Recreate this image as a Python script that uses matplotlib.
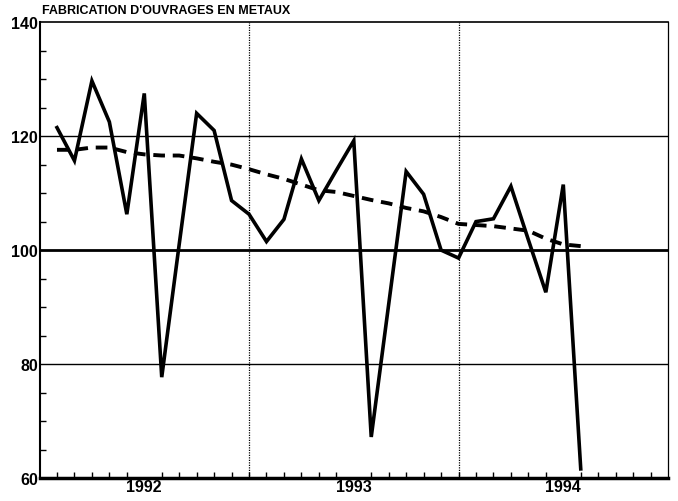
import numpy as np
import matplotlib.pyplot as plt

plt.rcParams['font.family'] = ['Liberation Sans', 'DejaVu Sans']

# --- Données (indices mensuels, base 100) ---
mois = np.arange(1, 32)   # position mensuelle sur l'axe (0 = début 1992)
production = [121.5, 115.7, 129.7, 122.5, 106.3, 127.5, 77.7, 101.0, 124.0, 121.0,
              108.7, 106.3, 101.5, 105.4, 116.0, 108.7, 114.0, 119.2, 67.2, 90.5,
              113.8, 109.8, 100.0, 98.6, 105.0, 105.5, 111.2, 101.8, 92.6, 111.5,
              61.6]
tendance = [117.6, 117.6, 118.0, 118.0, 117.2, 116.8, 116.6, 116.6, 116.1, 115.5,
            115.0, 114.2, 113.3, 112.5, 111.5, 110.5, 110.2, 109.5, 108.8, 108.2,
            107.4, 106.8, 105.8, 104.6, 104.4, 104.2, 103.8, 103.4, 102.0, 101.0,
            100.7]
annees = ['1992', '1993', '1994']
pos_annees = [6, 18, 30]

# --- Figure ---
fig = plt.figure(figsize=(6.78, 5.02), dpi=100)
ax = fig.add_axes([0.0583, 0.0458, 0.927, 0.908])

ax.set_xlim(0, 36)
ax.set_ylim(60, 140)

# lignes de référence
ax.axhline(80, color='black', lw=1.0, zorder=1)
ax.axhline(120, color='black', lw=1.0, zorder=1)
ax.axhline(100, color='black', lw=2.0, zorder=1)
for xv in [12, 24]:
    ax.axvline(xv, color='black', lw=0.9, linestyle=(0, (1, 1)), zorder=1)

ax.plot(mois, production, color='black', lw=2.6, solid_joinstyle='miter', zorder=3)
ax.plot(mois, tendance, color='black', lw=2.8, linestyle=(0, (3, 2)), zorder=3)

# axes
ax.spines['bottom'].set_linewidth(2.5)
ax.spines['left'].set_linewidth(1.5)
ax.spines['top'].set_linewidth(1.2)
ax.spines['right'].set_linewidth(0.9)
ax.spines['right'].set_linestyle((0, (1, 1)))

ax.set_yticks([60, 80, 100, 120, 140])
ax.set_yticks(np.arange(60, 141, 5), minor=True)
ax.set_xticks(pos_annees)
ax.set_xticklabels(annees)
ax.set_xticks(np.arange(1, 36), minor=True)
ax.tick_params(axis='x', which='major', length=0, pad=1)
ax.tick_params(axis='x', which='minor', direction='in', length=4, width=1)
ax.tick_params(axis='y', which='major', direction='in', length=0, pad=1)
ax.tick_params(axis='y', which='minor', direction='in', length=4, width=1)
for lab in ax.get_xticklabels() + ax.get_yticklabels():
    lab.set_fontweight('bold')
    lab.set_fontsize(11.5)

fig.text(0.062, 0.966, "FABRICATION D'OUVRAGES EN METAUX", fontsize=9,
         fontweight='bold', ha='left', va='bottom')

fig.savefig('out.png', dpi=100)
